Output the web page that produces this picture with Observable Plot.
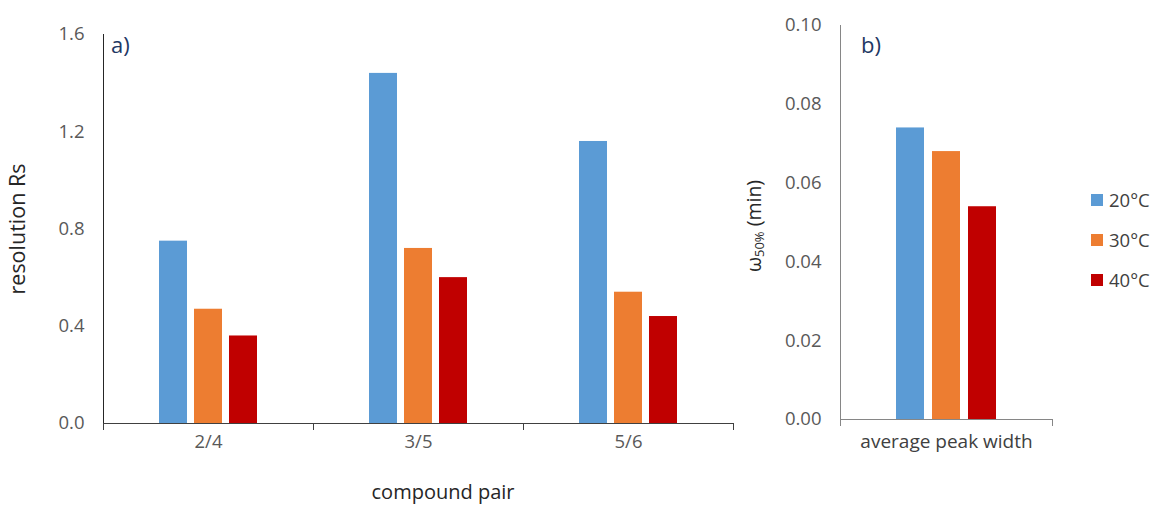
<!DOCTYPE html>
<html><head><meta charset="utf-8">
<script src="https://cdn.jsdelivr.net/npm/d3@7"></script>
<script src="https://cdn.jsdelivr.net/npm/@observablehq/plot@0.6"></script>
<style>
body{margin:0;background:#fff;}
#wrap{position:relative;width:1154px;height:508px;overflow:hidden;font-family:"Open Sans",sans-serif;}
#wrap svg{position:absolute;top:0;}
.lbl{position:absolute;white-space:nowrap;}
</style></head><body><div id="wrap"></div>
<script>
// ---- data ----
const temps = ["20°C", "30°C", "40°C"];
const colors = ["#5B9BD5", "#ED7D31", "#C00000"];
const pairs = ["2/4", "3/5", "5/6"];
const rs20 = [0.75, 1.44, 1.16];
const rs30 = [0.47, 0.72, 0.54];
const rs40 = [0.36, 0.60, 0.44];
const yTicksA = [0, 0.4, 0.8, 1.2, 1.6];
const widthLabel = "average peak width";
const width50 = [0.074, 0.068, 0.054];
const yTicksB = [0, 0.02, 0.04, 0.06, 0.08, 0.10];

const rsSeries = [rs20, rs30, rs40];
const rsData = pairs.flatMap((p, i) => temps.map((t, j) => ({pair: p, temp: t, rs: rsSeries[j][i]})));
const wData = temps.map((t, j) => ({temp: t, w: width50[j]}));

const font = "'Open Sans', sans-serif";
const wrap = document.getElementById("wrap");

// ---- panel a ----
const hA = 508, mtA = 34, mbA = 85;
const A = Plot.plot({
  width: 760, height: hA, marginLeft: 102, marginRight: 27, marginTop: mtA, marginBottom: mbA,
  style: {fontFamily: font, fontSize: "18.5px", color: "#595959", background: "transparent", overflow: "visible"},
  fx: {domain: pairs, padding: 0},
  x: {domain: temps, paddingInner: 0.2, paddingOuter: 1.585, axis: null},
  y: {domain: [0, 1.6]},
  color: {domain: temps, range: colors},
  marks: [
    Plot.barY(rsData, {fx: "pair", x: "temp", y: "rs", fill: "temp"}),
    Plot.axisY({ticks: yTicksA, tickFormat: d3.format(".1f"), tickSize: 0, tickPadding: 19,
      label: "resolution Rs", labelAnchor: "center", labelArrow: "none", labelOffset: 94}),
    Plot.axisFx({anchor: "bottom", tickSize: 0, tickPadding: 11, label: null}),
    Plot.ruleY([0], {stroke: "#404040"}),
    Plot.frame({anchor: "left", stroke: "#262626", facet: "super"}),
    Plot.frame({anchor: "left", insetTop: hA - mtA - mbA, insetBottom: -6, stroke: "#404040"}),
    Plot.frame({anchor: "right", insetTop: hA - mtA - mbA, insetBottom: -6, stroke: "#404040"})
  ]
});
A.style.left = "0px";
wrap.appendChild(A);

// ---- panel b ----
const hB = 508, mtB = 25, mbB = 89;
const B = Plot.plot({
  width: 414, height: hB, marginLeft: 100, marginRight: 102, marginTop: mtB, marginBottom: mbB,
  style: {fontFamily: font, fontSize: "18.5px", color: "#595959", background: "transparent", overflow: "visible"},
  x: {domain: temps, paddingInner: 0.22, paddingOuter: 1.525, axis: null},
  y: {domain: [0, 0.1]},
  color: {domain: temps, range: colors},
  marks: [
    Plot.barY(wData, {x: "temp", y: "w", fill: "temp"}),
    Plot.axisY({ticks: yTicksB, tickFormat: d3.format(".2f"), tickSize: 0, tickPadding: 19, label: null}),
    Plot.ruleY([0], {stroke: "#868686"}),
    Plot.frame({anchor: "left", stroke: "#868686"}),
    Plot.frame({anchor: "left", insetTop: hB - mtB - mbB, insetBottom: -6, stroke: "#868686"}),
    Plot.frame({anchor: "right", insetTop: hB - mtB - mbB, insetBottom: -6, stroke: "#868686"}),
    Plot.text([widthLabel], {frameAnchor: "bottom", lineAnchor: "top", dy: 15, fill: "#404040", fontSize: 19})
  ]
});
B.style.left = "740px";
wrap.appendChild(B);

for (const svg of [A, B]) {
  svg.querySelectorAll('g[aria-label$="axis label"]').forEach(g => {
    g.setAttribute("fill", "#262626");
    g.setAttribute("font-size", "21.5px");
  });
}

// ---- extra text: panel tags, axis titles, legend ----
function addLabel(html, css) {
  const d = document.createElement("div");
  d.className = "lbl";
  d.innerHTML = html;
  Object.assign(d.style, css);
  wrap.appendChild(d);
  return d;
}
addLabel("a)", {left: "111px", top: "33px", fontSize: "22px", color: "#1F3864", lineHeight: "1"});
addLabel("b)", {left: "861px", top: "33px", fontSize: "22px", color: "#1F3864", lineHeight: "1"});
addLabel("compound pair", {left: "443px", top: "492px", fontSize: "20px", color: "#262626", lineHeight: "1",
  transform: "translate(-50%,-50%)"});
addLabel('ω<sub style="font-size:13px;vertical-align:-3px">50%</sub> (min)',
  {left: "755px", top: "226px", fontSize: "19.5px", color: "#262626", lineHeight: "1",
   transform: "translate(-50%,-50%) rotate(-90deg)"});
temps.forEach((t, i) => {
  addLabel(`<span style="display:inline-block;width:12px;height:12px;background:${colors[i]};margin-right:6px;vertical-align:middle"></span><span style="vertical-align:middle">${t}</span>`,
    {left: "1091px", top: (198 + 40 * i - 12) + "px", fontSize: "18.5px", color: "#404040", lineHeight: "24px"});
});
</script></body></html>
